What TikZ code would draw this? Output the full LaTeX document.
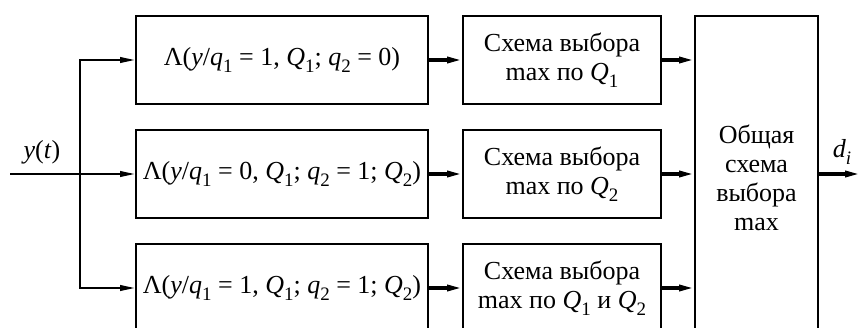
\documentclass[tikz,border=0pt]{standalone}
\usepackage{fontspec}
\setmainfont{Liberation Serif}
\usetikzlibrary{arrows.meta}
\newcommand{\vsub}[2]{\textit{#1}\raisebox{-3.2pt}{\fontsize{9.5}{10}\selectfont #2}}

\begin{document}
\begin{tikzpicture}[x=0.5pt, y=-0.5pt,
    box/.style={draw, line width=1pt, inner sep=0pt, align=center, font=\fontsize{13}{14.5}\selectfont},
    lbox/.style={box, minimum width=146pt, minimum height=44pt},
    mbox/.style={box, minimum width=99pt, minimum height=44pt},
    thin arrow/.style={-{Triangle[length=7.5pt,width=2.8pt]}, line width=1pt},
    thick arrow/.style={-{Triangle[length=7.5pt,width=3pt]}, line width=1.6pt}]
    \useasboundingbox (0,0) rectangle (861,327);
    \clip (0,0) rectangle (861,327);

    % likelihood blocks
    \node[lbox] (lam1) at (282,60) {Λ(\textit{y}/\vsub{q}{1} = 1, \vsub{Q}{1}; \vsub{q}{2} = 0)};
    \node[lbox] (lam2) at (282,174) {Λ(\textit{y}/\vsub{q}{1} = 0, \vsub{Q}{1}; \vsub{q}{2} = 1; \vsub{Q}{2})};
    \node[lbox] (lam3) at (282,288) {Λ(\textit{y}/\vsub{q}{1} = 1, \vsub{Q}{1}; \vsub{q}{2} = 1; \vsub{Q}{2})};

    % max selection blocks
    \node[mbox] (sel1) at (562,60) {Схема выбора\\max по \vsub{Q}{1}};
    \node[mbox] (sel2) at (562,174) {Схема выбора\\max по \vsub{Q}{2}};
    \node[mbox] (sel3) at (562,288) {Схема выбора\\max по \vsub{Q}{1} и \vsub{Q}{2}};

    \node[box, minimum width=61.5pt, minimum height=162pt] (total) at (756.5,178)
        {Общая\\схема\\выбора\\max};

    \coordinate (in) at (10,174);
    \coordinate (fork) at (80,174);
    \coordinate (out) at (860,174);

    \draw[thin arrow] (in) -- (lam2.west);
    \draw[thin arrow] (fork) |- (lam1.west);
    \draw[thin arrow] (fork) |- (lam3.west);

    \draw[thick arrow] (lam1.east) -- (sel1.west);
    \draw[thick arrow] (lam2.east) -- (sel2.west);
    \draw[thick arrow] (lam3.east) -- (sel3.west);

    \draw[thick arrow] (sel1.east) -- (sel1.east -| total.west);
    \draw[thick arrow] (sel2.east) -- (sel2.east -| total.west);
    \draw[thick arrow] (sel3.east) -- (sel3.east -| total.west);
    \draw[thick arrow] (total.east |- out) -- (out);

    \node[font=\fontsize{13}{14.5}\selectfont] (ylab) at (42,152) {\textit{y}(\textit{t})};
    \node[font=\fontsize{13}{14.5}\selectfont] (dlab) at (842,152) {\vsub{d}{\textit{i}}};
\end{tikzpicture}
\end{document}
